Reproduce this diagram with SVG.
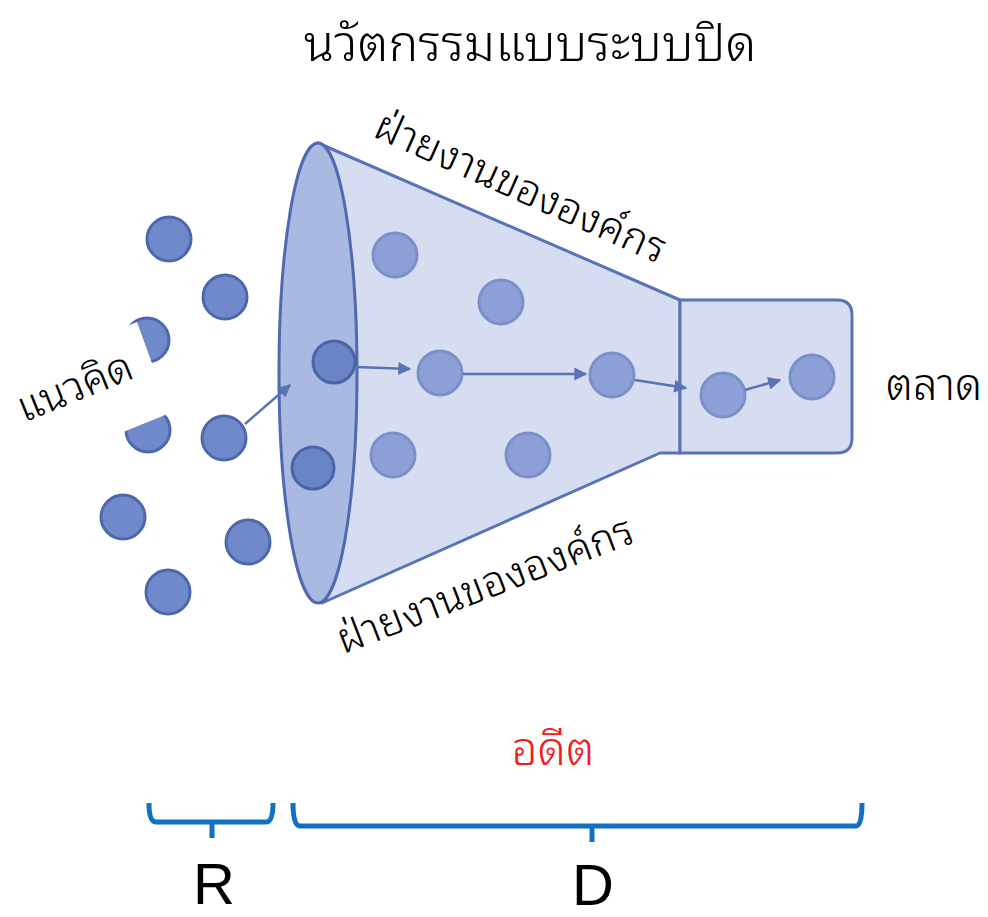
<svg xmlns="http://www.w3.org/2000/svg" width="988" height="917" viewBox="0 0 988 917">
<defs>
<style>
.dot{fill:#6f89cb;stroke:#4d67ad;stroke-width:3}
.idot{fill:#8c9fd6;stroke:#7b8fcb;stroke-width:3}
.edot{fill:#6a84c6;stroke:#4a64aa;stroke-width:3}
.arr{stroke:#5a72b6;stroke-width:2.5;fill:none;marker-end:url(#ah)}
.th{font-family:"Noto Sans Thai Looped","Noto Sans Thai","Noto Sans","DejaVu Sans",sans-serif;font-weight:300;fill:#000}
.brace{fill:none;stroke:#1170c4;stroke-width:5;stroke-linejoin:round}
.lat{font-family:"Liberation Sans Narrow","Liberation Sans",sans-serif;font-size:58px;fill:#000}
</style>
<marker id="ah" viewBox="0 0 10 10" refX="9" refY="5" markerWidth="15" markerHeight="13" markerUnits="userSpaceOnUse" orient="auto">
<path d="M0,0 L10,5 L0,10 z" fill="#5a72b6"/>
</marker>
</defs>
<rect width="988" height="917" fill="#fff"/>
<text class="th" x="530" y="61" font-size="50" text-anchor="middle">นวัตกรรมแบบระบบปิด</text>

<g id="funnel">
<path d="M318,143 L680,300 L680,453 L660,453 L322,603 Z" fill="#d6ddf1" stroke="#5a72b6" stroke-width="3" stroke-linejoin="round"/>
<ellipse cx="318" cy="373" rx="39" ry="230" fill="#aab9e2" stroke="#4f6ab0" stroke-width="3"/>
</g>
<g id="box">
<path d="M680,300 L837,300 Q852,300 852,315 L852,438 Q852,453 837,453 L680,453 Z" fill="#d6ddf1" stroke="#5a72b6" stroke-width="3"/>
</g>

<g id="ideas">
<circle class="dot" cx="169" cy="239" r="22"/>
<circle class="dot" cx="225" cy="297" r="22"/>
<circle class="dot" cx="147" cy="340" r="22"/>
<circle class="dot" cx="148" cy="430" r="22"/>
<circle class="dot" cx="224" cy="438" r="22"/>
<circle class="dot" cx="123" cy="517" r="22"/>
<circle class="dot" cx="248" cy="542" r="22"/>
<circle class="dot" cx="168" cy="592" r="22"/>
</g>
<g id="inner">
<circle class="idot" cx="395" cy="255" r="22"/>
<circle class="idot" cx="501" cy="302" r="22"/>
<circle class="edot" cx="334" cy="362" r="21"/>
<circle class="idot" cx="440" cy="373" r="22"/>
<circle class="idot" cx="612" cy="375" r="22"/>
<circle class="edot" cx="313" cy="468" r="21"/>
<circle class="idot" cx="393" cy="455" r="22"/>
<circle class="idot" cx="528" cy="455" r="22"/>
<circle class="idot" cx="723" cy="395" r="22"/>
<circle class="idot" cx="812" cy="377" r="22"/>
</g>

<g id="connectors">
<line class="arr" x1="245" y1="424" x2="290" y2="385"/>
<line class="arr" x1="356" y1="367" x2="410" y2="369"/>
<line class="arr" x1="463" y1="374" x2="586" y2="374"/>
<line class="arr" x1="635" y1="380" x2="686" y2="388"/>
<line class="arr" x1="745" y1="390" x2="780" y2="380"/>
</g>

<polygon points="0,377 137,322 170,413 0,482" fill="#fff"/>
<text class="th" font-size="42" transform="translate(80,400) rotate(-22)" text-anchor="middle">แนวคิด</text>
<text class="th" font-size="42" transform="translate(515,200) rotate(24)" text-anchor="middle">ฝ่ายงานขององค์กร</text>
<text class="th" font-size="42" transform="translate(490,598) rotate(-21)" text-anchor="middle">ฝ่ายงานขององค์กร</text>
<text class="th" x="934" y="400" font-size="44" text-anchor="middle">ตลาด</text>
<text class="th" x="553" y="765" font-size="46" text-anchor="middle" style="fill:#ee1c1c">อดีต</text>

<g id="braces">
<path class="brace" d="M149,803 Q149,822 156,822 L266,822 Q273,822 273,803 M212,822 L212,838"/>
<path class="brace" d="M293,803 Q293,826 300,826 L856,826 Q862,826 862,803 M592,826 L592,842"/>
</g>
<text class="lat" x="214" y="904" text-anchor="middle">R</text>
<text class="lat" x="593" y="905" text-anchor="middle">D</text>
</svg>
